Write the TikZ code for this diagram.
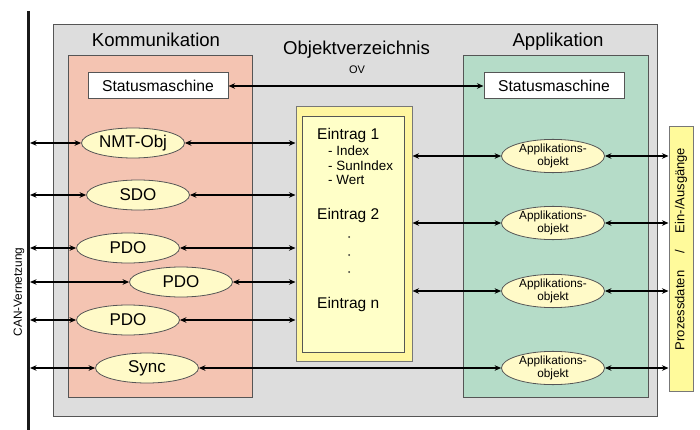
\documentclass[tikz,border=0pt]{standalone}
\usepackage{fontspec}
\setmainfont{Liberation Sans}
\usetikzlibrary{shapes.geometric,arrows.meta}

\definecolor{ovgrau}{RGB}{221,221,221}
\definecolor{kommrot}{RGB}{244,196,178}
\definecolor{appgruen}{RGB}{181,220,200}
\definecolor{ovgelb}{RGB}{255,246,160}
\definecolor{eintraggelb}{RGB}{255,255,200}
\definecolor{objgelb}{RGB}{255,250,200}
\definecolor{pdgelb}{RGB}{255,250,155}
\definecolor{randgrau}{RGB}{85,85,85}

\tikzset{
  box/.style={draw=randgrau,line width=1pt,inner sep=0pt,rectangle},
  objekt/.style={ellipse,draw=randgrau,line width=0.8pt,fill=objgelb,inner sep=0pt,
    minimum width=103pt,minimum height=30pt,font=\fontsize{17}{20}\selectfont},
  appobj/.style={objekt,minimum height=32pt,align=center,
    font=\fontsize{11.8}{12.5}\selectfont},
  pfeil/.style={line width=1.5pt,{Stealth[length=6.5pt,width=5.5pt]}-{Stealth[length=6.5pt,width=5.5pt]}},
  titel/.style={font=\fontsize{18.6}{22}\selectfont,anchor=base,inner sep=0pt},
}

\begin{document}
\begin{tikzpicture}[x=1pt,y=-1pt]
  \useasboundingbox (0,0) rectangle (700,430);

  % Bereiche
  \node[box,fill=ovgrau,minimum width=604pt,minimum height=391pt] (geraet) at (355,220.5) {};
  \node[box,fill=kommrot,minimum width=184pt,minimum height=341pt] (komm) at (160,226.5) {};
  \node[box,fill=appgruen,minimum width=185pt,minimum height=341pt] (app) at (555.5,226.5) {};
  \node[titel] (kommtitel) at (156,47) {Kommunikation};
  \node[titel] (apptitel) at (558,47) {Applikation};
  \node[titel] (ovtitel) at (356.5,55) {Objektverzeichnis};
  \node[anchor=base,inner sep=0pt,font=\fontsize{11}{12}\selectfont] (ovkurz) at (357,74) {OV};

  % CAN-Bus
  \draw[line width=3pt,black!90] (28,11) -- (28,430);
  \node[rotate=90,font=\fontsize{11.8}{13}\selectfont,inner sep=0pt] (can) at (19,292) {CAN-Vernetzung};

  % Statusmaschinen
  \node[box,fill=white,minimum width=140pt,minimum height=26pt,font=\fontsize{15.7}{18}\selectfont] (smkomm) at (158,86) {Statusmaschine};
  \node[box,fill=white,minimum width=140pt,minimum height=26pt,font=\fontsize{15.7}{18}\selectfont] (smapp) at (554,86) {Statusmaschine};
  \draw[pfeil] (smkomm.east) -- (smapp.west);

  % Objektverzeichnis
  \node[draw=randgrau!80,line width=1pt,fill=ovgelb,inner sep=0pt,minimum width=116pt,minimum height=254pt] (ov) at (354,234) {};
  \node[draw=randgrau,line width=1pt,fill=eintraggelb,inner sep=0pt,minimum width=102pt,minimum height=235pt] (ovinnen) at (353,234.5) {};
  \begin{scope}[every node/.style={anchor=base west,inner sep=0pt}]
    \node[font=\fontsize{15.5}{18}\selectfont] (e1) at (317,140) {Eintrag 1};
    \node[font=\fontsize{13.4}{15}\selectfont] (e1a) at (328,156) {- Index};
    \node[font=\fontsize{13.4}{15}\selectfont] (e1b) at (328,171) {- SunIndex};
    \node[font=\fontsize{13.4}{15}\selectfont] (e1c) at (328,185) {- Wert};
    \node[font=\fontsize{15.5}{18}\selectfont] (e2) at (317,219) {Eintrag 2};
    \node[font=\fontsize{15.5}{18}\selectfont] (en) at (317,308) {Eintrag n};
  \end{scope}
  \foreach \y/\n in {237/1,255/2,272/3}
    \node[circle,fill=black!80,inner sep=0pt,minimum size=2pt] (punkt\n) at (349,\y) {};

  % Kommunikationsobjekte
  \node[objekt] (nmt) at (133,143) {NMT-Obj};
  \node[objekt] (sdo) at (138,195) {SDO};
  \node[objekt] (pdoa) at (128,248) {PDO};
  \node[objekt] (pdob) at (181,282) {PDO};
  \node[objekt] (pdoc) at (128,320) {PDO};
  \node[objekt] (sync) at (147,368) {Sync};

  % Applikationsobjekte
  \node[appobj] (appa) at (553,156) {Applikations-\\objekt};
  \node[appobj] (appb) at (553,223) {Applikations-\\objekt};
  \node[appobj] (appc) at (553,291) {Applikations-\\objekt};
  \node[appobj] (appd) at (553,368) {Applikations-\\objekt};

  % Prozessdaten
  \node[draw=randgrau!80,line width=1pt,fill=pdgelb,inner sep=0pt,minimum width=24pt,minimum height=264pt] (pd) at (681,259) {};
  \node[rotate=90,font=\fontsize{13}{15}\selectfont,inner sep=0pt] (pdtext) at (681,249) {Prozessdaten\hspace{17pt}/\hspace{17pt}Ein-/Ausg\"ange};

  % Verbindungen
  \foreach \o in {nmt,sdo,pdoa,pdob,pdoc,sync}
    \coordinate (bus\o) at (30,0 |- \o);
  \foreach \o in {nmt,sdo,pdoa,pdob,pdoc,sync}
    \draw[pfeil] (bus\o) -- (\o.west);
  \foreach \o in {nmt,sdo,pdoa,pdob,pdoc}
    \draw[pfeil] (\o.east) -- (\o -| ov.west);
  \draw[pfeil] (sync.east) -- (appd.west);
  \foreach \o in {appa,appb,appc}
    \draw[pfeil] (\o -| ov.east) -- (\o.west);
  \foreach \o in {appa,appb,appc,appd}
    \draw[pfeil] (\o.east) -- (\o -| pd.west);
\end{tikzpicture}
\end{document}
